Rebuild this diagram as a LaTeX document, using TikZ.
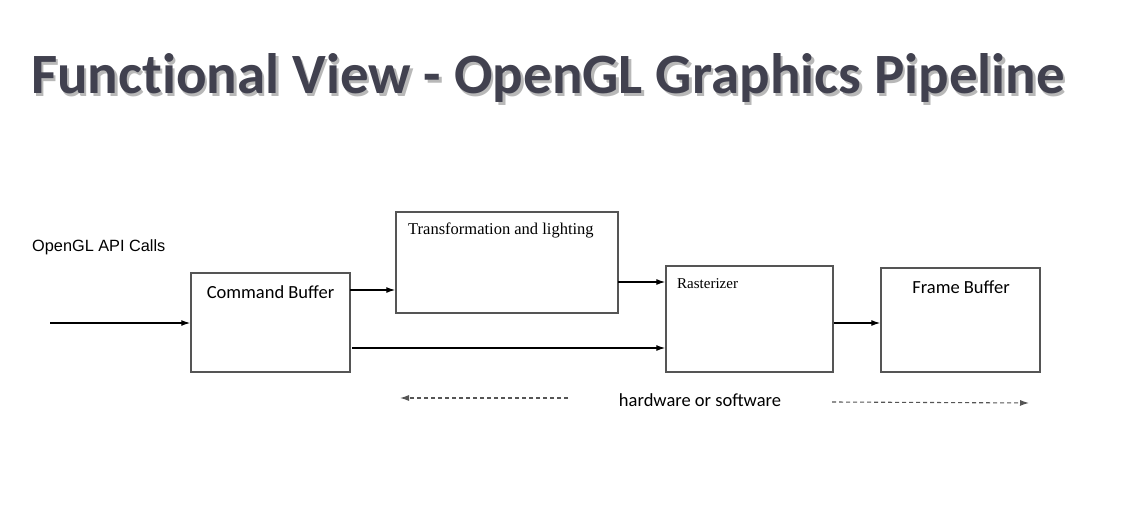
\documentclass[tikz,border=0pt]{standalone}
\usepackage{fontspec}
\newfontfamily\calibrifont{Carlito}
\newfontfamily\titlefont[Ligatures=NoCommon]{Carlito}
\newfontfamily\timesfont{Liberation Serif}
\newfontfamily\arialfont{Liberation Sans}
\usetikzlibrary{arrows.meta}
\definecolor{titlegray}{HTML}{41414F}
\definecolor{boxgray}{HTML}{555555}
\tikzset{
  blockbox/.style={draw=boxgray, line width=1.5pt, minimum width=#1, inner sep=0pt},
  flowarrow/.style={line width=1.2pt, -{Latex[length=9pt,width=6pt]}},
  rangearrow/.style={draw=boxgray, line width=1.1pt, dash pattern=on 4pt off 3pt, -{Latex[length=9pt,width=6pt]}},
  sanslabel/.style={font=\calibrifont\fontsize{18.5}{22}\selectfont, inner sep=0pt},
  seriflabel/.style={font=\timesfont\fontsize{16.5}{19}\selectfont, inner sep=0pt},
  titletext/.style={font=\titlefont\bfseries\fontsize{57}{63}\selectfont, inner sep=0pt}
}

\begin{document}
\begin{tikzpicture}[x=1pt, y=-1pt]
			%%%%% START %%%%%
			
			\fill[white] (0, 0) rectangle (1128, 516);
			\useasboundingbox (0, 0) rectangle (1128, 516);
			
			\node[titletext, text=black!28] (titleshadow) at (550.5, 80.5) {Functional View - OpenGL Graphics Pipeline};
			\node[titletext, text=titlegray] (title) at (548, 78) {Functional View - OpenGL Graphics Pipeline};
			
			\node[font=\arialfont\fontsize{16.3}{19}\selectfont, inner sep=0pt, anchor=west] (apicalls) at (32, 247) {OpenGL API Calls};
			\coordinate (apistart) at (50, 323);
			
			\node[blockbox=159pt, minimum height=99pt] (cmdbuf) at (270.5, 322.5) {};
			\node[sanslabel] at (270.5, 292) {Command Buffer};
			
			\node[blockbox=222pt, minimum height=101pt] (tlight) at (507, 262.5) {};
			\node[seriflabel, anchor=west] at (408, 230) {Transformation and lighting};
			
			\node[blockbox=167pt, minimum height=106pt] (raster) at (749.5, 319) {};
			\node[seriflabel, anchor=west, font=\timesfont\fontsize{15}{18}\selectfont] at (677, 284) {Rasterizer};
			
			\node[blockbox=159pt, minimum height=104pt] (framebuf) at (960.5, 320) {};
			\node[sanslabel] at (961, 287) {Frame Buffer};
			
			\draw[flowarrow] (apistart) -- (apistart -| cmdbuf.west);
			
			\coordinate (cmdtop) at (350, 290);
			\draw[flowarrow] (cmdtop) -- (cmdtop -| tlight.west);
			\coordinate (tltop) at (618, 282);
			\draw[flowarrow] (tltop) -- (tltop -| raster.west);
			\coordinate (cmdlow) at (352, 348);
			\draw[flowarrow] (cmdlow) -- (cmdlow -| raster.west);
			\coordinate (rastmid) at (834, 323);
			\draw[flowarrow] (rastmid) -- (rastmid -| framebuf.west);
			
			\node[sanslabel] (hwsw) at (700, 400) {hardware or software};
			\coordinate (leftend) at (400, 398);
			\coordinate (rightend) at (1029, 403);
			\draw[rangearrow] (568, 398) -- (leftend);
			\draw[rangearrow] (832, 402) -- (rightend);
			
			%%%%% END %%%%%
\end{tikzpicture}
\end{document}
